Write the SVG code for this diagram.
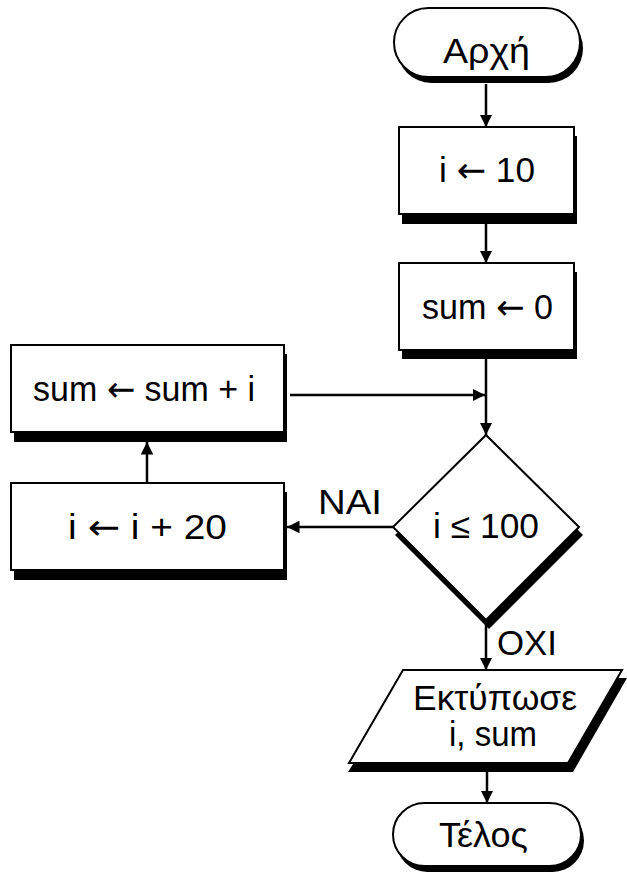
<svg xmlns="http://www.w3.org/2000/svg" width="627" height="882" viewBox="0 0 627 882">
<defs>
<style>
.sh{fill:#000;stroke:none}
.nd{fill:#fff;stroke:#000;stroke-width:2}
.tx{font-family:"Liberation Sans",Arial,sans-serif;font-size:35px;fill:#000}
.ar{font-family:"DejaVu Sans",sans-serif}
.cn{stroke:#000;stroke-width:2.5;fill:none}
</style>
<marker id="ah" viewBox="0 0 10 10" refX="10" refY="5" markerWidth="5" markerHeight="5" markerUnits="strokeWidth" orient="auto">
<path d="M0,0 L10,5 L0,10 z" fill="#000"/>
</marker>
</defs>
<rect width="627" height="882" fill="#fff"/>
<g id="connectors">
<line class="cn" x1="486" y1="84" x2="486" y2="127" marker-end="url(#ah)"/>
<line class="cn" x1="486" y1="224" x2="486" y2="263" marker-end="url(#ah)"/>
<line class="cn" x1="486" y1="358" x2="486" y2="435" marker-end="url(#ah)"/>
<line class="cn" x1="290" y1="395" x2="485" y2="395" marker-end="url(#ah)"/>
<line class="cn" x1="393" y1="527" x2="287" y2="527" marker-end="url(#ah)"/>
<line class="cn" x1="147" y1="483" x2="147" y2="442" marker-end="url(#ah)"/>
<line class="cn" x1="486" y1="622" x2="486" y2="670" marker-end="url(#ah)"/>
<line class="cn" x1="487" y1="771" x2="487" y2="803" marker-end="url(#ah)"/>
</g>
<g id="start">
<rect class="sh" x="397" y="14" width="186" height="69" rx="34.5"/>
<rect class="nd" x="394" y="8" width="186" height="69" rx="34.5"/>
<text class="tx" x="443" y="63" font-size="48" textLength="87" lengthAdjust="spacingAndGlyphs">Αρχή</text>
</g>
<g id="init_i">
<rect class="sh" x="402" y="136" width="175" height="88"/>
<rect class="nd" x="399" y="127" width="175" height="87"/>
<text class="tx" x="439" y="182" textLength="96" lengthAdjust="spacingAndGlyphs">i <tspan class="ar">←</tspan> 10</text>
</g>
<g id="init_sum">
<rect class="sh" x="402" y="272" width="175" height="87"/>
<rect class="nd" x="399" y="263" width="175" height="87"/>
<text class="tx" x="422" y="319" textLength="131" lengthAdjust="spacingAndGlyphs">sum <tspan class="ar">←</tspan> 0</text>
</g>
<g id="add_sum">
<rect class="sh" x="14" y="354" width="273" height="88"/>
<rect class="nd" x="11" y="345" width="273" height="87"/>
<text class="tx" x="33" y="401" textLength="222" lengthAdjust="spacingAndGlyphs">sum <tspan class="ar">←</tspan> sum + i</text>
</g>
<g id="inc_i">
<rect class="sh" x="14" y="492" width="273" height="88"/>
<rect class="nd" x="11" y="483" width="273" height="87"/>
<text class="tx" x="68" y="539" textLength="159" lengthAdjust="spacingAndGlyphs">i <tspan class="ar">←</tspan> i + 20</text>
</g>
<g id="decision">
<polygon class="sh" points="489,441 583,535 489,629 395,535"/>
<polygon class="nd" points="486,435 579,527 486,620 393,527"/>
<text class="tx" x="433" y="538" font-size="36" textLength="106" lengthAdjust="spacingAndGlyphs">i ≤ 100</text>
</g>
<text class="tx" x="318" y="514" font-size="36" textLength="64" lengthAdjust="spacingAndGlyphs">ΝΑΙ</text>
<text class="tx" x="497" y="655" font-size="32" textLength="60" lengthAdjust="spacingAndGlyphs">ΟΧΙ</text>
<g id="output">
<polygon class="sh" points="407,678 627,678 573,772 348,772"/>
<polygon class="nd" points="403,670 622,670 568,763 349,763"/>
<text class="tx" x="413" y="710" font-size="32" textLength="164" lengthAdjust="spacingAndGlyphs">Εκτύπωσε</text>
<text class="tx" x="449" y="746" font-size="32" textLength="88" lengthAdjust="spacingAndGlyphs">i, sum</text>
</g>
<g id="end">
<rect class="sh" x="396" y="809" width="188" height="63" rx="31.5"/>
<rect class="nd" x="393" y="803" width="188" height="63" rx="31.5"/>
<text class="tx" x="439" y="847" font-size="34" textLength="89" lengthAdjust="spacingAndGlyphs">Τέλος</text>
</g>
</svg>
